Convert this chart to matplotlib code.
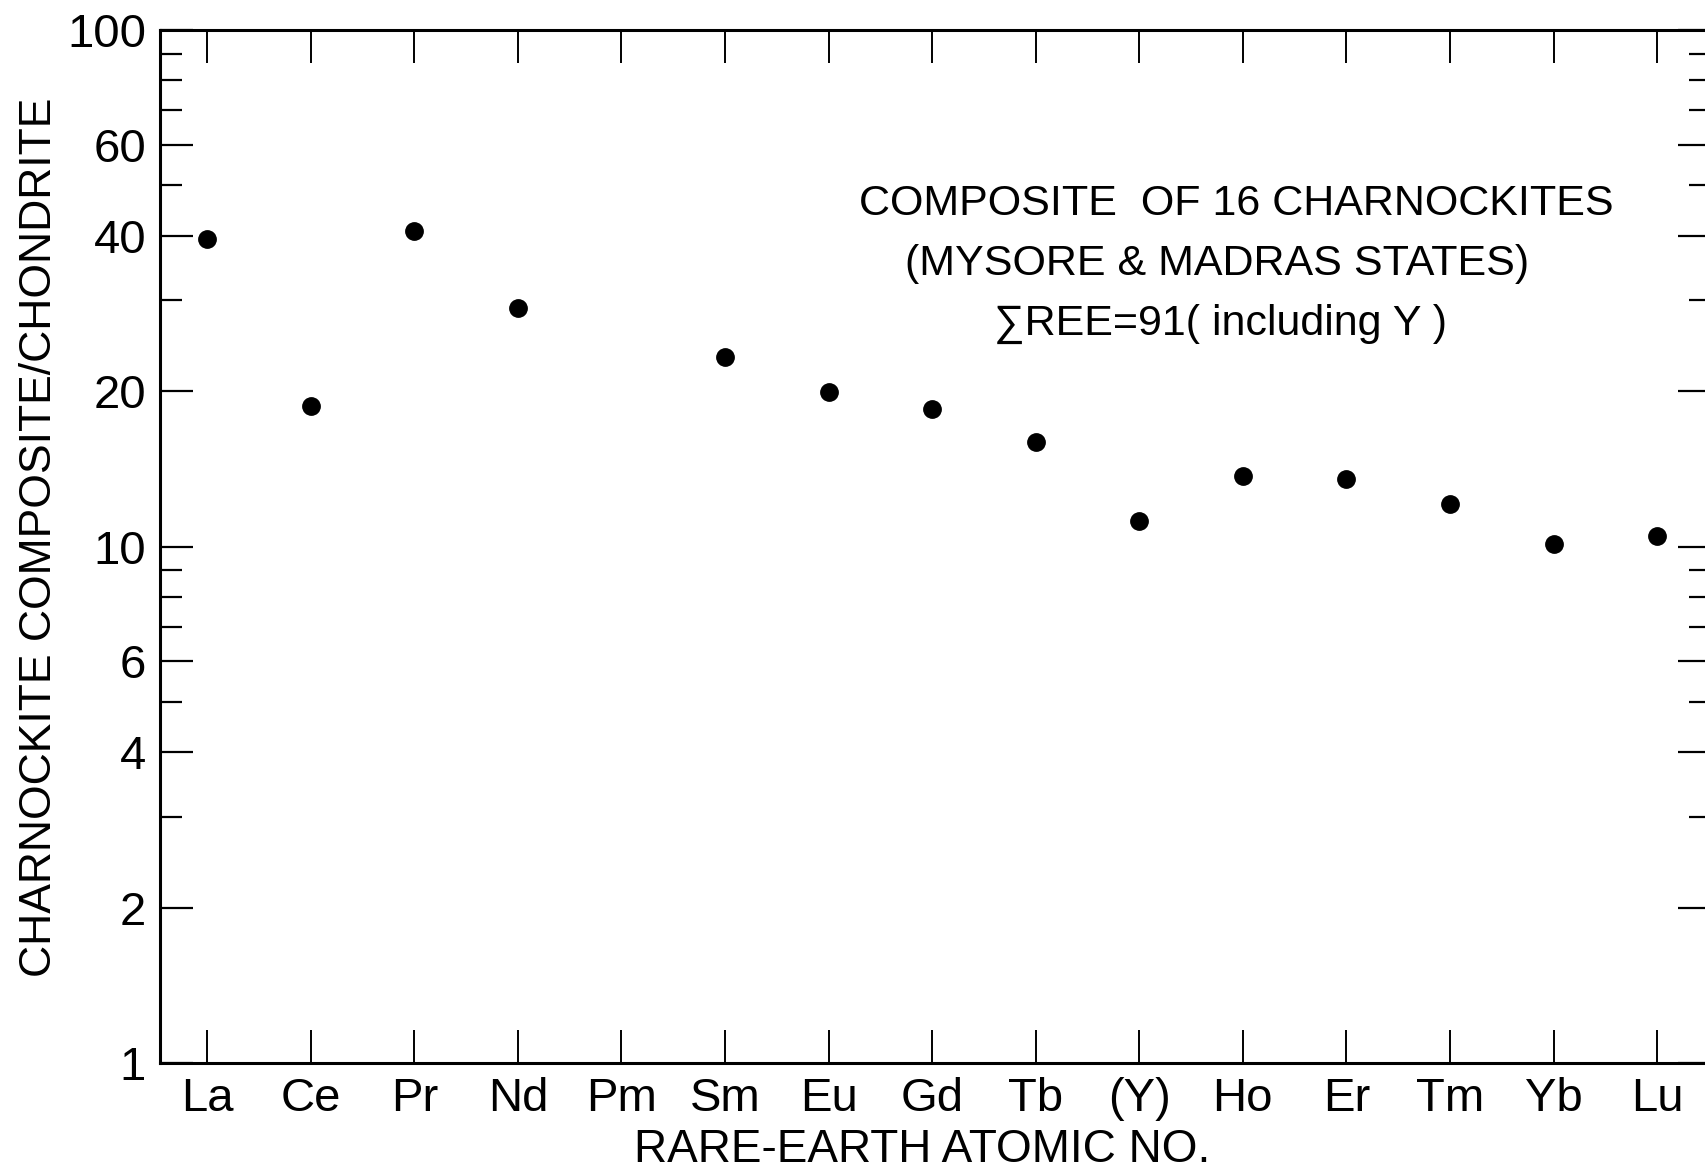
import numpy as np
import matplotlib
matplotlib.use('Agg')
import matplotlib.pyplot as plt
import matplotlib.ticker as ticker

#%% Data

elements = ['La', 'Ce', 'Pr', 'Nd', 'Pm', 'Sm', 'Eu', 'Gd', 'Tb', '(Y)',
            'Ho', 'Er', 'Tm', 'Yb', 'Lu']
# charnockite composite / chondrite (Pm not measured)
ratio = [39.4, 18.7, 40.9, 29.0, np.nan, 23.3, 19.95, 18.5, 15.9, 11.2,
         13.7, 13.5, 12.1, 10.1, 10.5]

y_major = [1, 2, 4, 6, 10, 20, 40, 60, 100]
y_major_labels = ['1', '2', '4', '6', '10', '20', '40', '60', '100']
y_minor = [3, 5, 7, 8, 9, 30, 50, 70, 80, 90]

note_lines = ['COMPOSITE  OF 16 CHARNOCKITES',
              '(MYSORE & MADRAS STATES)',
              '\u2211REE=91( including Y )']

#%% Plot

font = ['Liberation Sans', 'DejaVu Sans']

fig = plt.figure(figsize=(17.05, 11.76), dpi=100)
ax = fig.add_axes([160/1705, 113/1176, 1551/1705, 1033/1176])

x = np.arange(len(elements))
ax.plot(x, ratio, linestyle='none', marker='o', markersize=12.5,
        color='black')

ax.set_yscale('log')
ax.set_ylim(1, 100)
ax.set_xlim(-0.455, 14.52)

ax.yaxis.set_major_locator(ticker.FixedLocator(y_major))
ax.yaxis.set_major_formatter(ticker.FixedFormatter(y_major_labels))
ax.yaxis.set_minor_locator(ticker.FixedLocator(y_minor))
ax.yaxis.set_minor_formatter(ticker.NullFormatter())

ax.set_xticks(x)
ax.set_xticklabels(elements)

ax.tick_params(axis='both', which='both', direction='in', color='black')
ax.tick_params(axis='y', which='major', length=24, width=1.6,
               left=True, right=True, pad=10, labelsize=34)
ax.tick_params(axis='y', which='minor', length=16, width=1.6,
               left=True, right=True)
ax.tick_params(axis='x', which='major', length=24, width=1.4,
               top=True, bottom=True, pad=10, labelsize=34)

for lab in ax.get_yticklabels() + ax.get_xticklabels():
    lab.set_family(font)

for s in ax.spines.values():
    s.set_linewidth(2.2)

fig.text(40/1705, 1 - 537/1176, 'CHARNOCKITE COMPOSITE/CHONDRITE',
         rotation=90, ha='center', va='center', fontsize=32, family=font)
fig.text(922/1705, 1 - 1150/1176, 'RARE-EARTH ATOMIC NO.',
         ha='center', va='center', fontsize=33, family=font)

note_x = [1236, 1217, 1220]
note_y = [204, 264, 324]
for txt, nx, ny in zip(note_lines, note_x, note_y):
    fig.text(nx/1705, 1 - ny/1176, txt, ha='center', va='center',
             fontsize=31, family=font)

fig.savefig('out.png', dpi=100)
